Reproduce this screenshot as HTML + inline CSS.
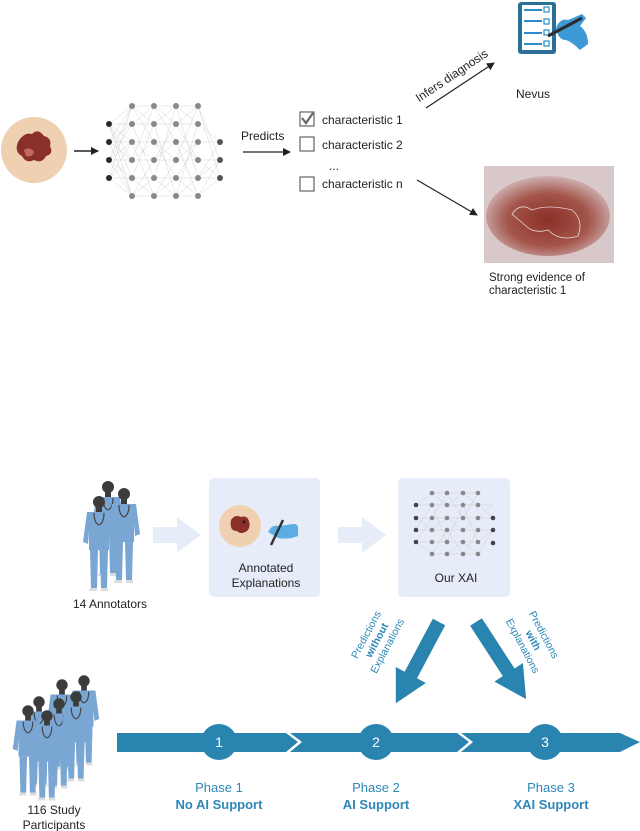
<!DOCTYPE html>
<html><head><meta charset="utf-8"><style>
html,body{margin:0;padding:0;background:#fff}
svg{display:block}
text{font-family:"Liberation Sans",sans-serif}
</style></head><body>
<svg width="640" height="831" viewBox="0 0 640 831" xmlns="http://www.w3.org/2000/svg">
<defs>
<marker id="ah" markerWidth="8" markerHeight="8" refX="7" refY="4" orient="auto" markerUnits="userSpaceOnUse"><path d="M0,0 L8,4 L0,8 Z" fill="#222"/></marker>
<g id="person">
<circle cx="0" cy="0" r="6" fill="#3c3c3c"/>
<rect x="-3" y="5" width="6" height="5" fill="#3c3c3c"/>
<path d="M-12,10 L12,10 L16,40 L11,42 L10,30 L10,48 L-10,48 L-10,30 L-11,42 L-16,40 Z" fill="#7aa6d4"/>
<path d="M-9,48 L-1,48 L-2,86 L-8,86 Z M1,48 L9,48 L8,86 L2,86 Z" fill="#7aa6d4"/>
<path d="M-9,86 h7 v3 h-8 Z M2,86 h7 v3 h-7 Z" fill="#ddd"/>
<path d="M-5,11 q0,10 5,12 q5,-2 5,-12" stroke="#444" stroke-width="1.2" fill="none"/>
</g>
</defs>

<!-- TOP: lesion -->
<ellipse cx="34" cy="150" rx="33" ry="33" fill="#efd0b0"/>
<path d="M18,142 q6,-10 14,-8 q6,-6 12,2 q8,2 6,10 q4,8 -4,10 q-4,8 -12,4 q-8,4 -12,-4 q-8,-4 -4,-14 Z" fill="#8b2f2a"/>
<path d="M24,150 q6,-4 10,2 q-2,6 -8,4 Z" fill="#c06a60"/>
<line x1="74" y1="151" x2="98" y2="151" stroke="#222" stroke-width="1.5" marker-end="url(#ah)"/>

<!-- neural net top -->
<g stroke="#c8c8c8" stroke-width="0.4" fill="none">
<path d="M109,124 L132,106 M109,124 L132,142 M109,124 L132,160 M109,124 L132,178 M109,124 L132,196 M109,142 L132,106 M109,142 L132,124 M109,142 L132,160 M109,142 L132,196 M109,160 L132,106 M109,160 L132,124 M109,160 L132,142 M109,160 L132,178 M109,160 L132,196 M109,178 L132,106 M109,178 L132,142 M109,178 L132,160 M109,178 L132,196"/>
<path d="M132,106 L154,124 L176,106 L198,124 L220,142 M132,124 L154,106 L176,124 L198,106 L220,160 M132,142 L154,160 L176,142 L198,160 L220,178 M132,160 L154,142 L176,160 L198,142 M132,178 L154,196 L176,178 L198,196 L220,178 M132,196 L154,178 L176,196 L198,178 L220,160 M132,106 L154,142 L176,178 L198,142 M132,196 L154,160 L176,124 L198,160 M132,124 L154,178 L176,106 L198,178 L220,142 M132,178 L154,124 L176,196 L198,124 M132,142 L154,196 L176,160 L198,106 L220,178 M132,160 L154,106 L176,142 L198,196 L220,160"/>
<path d="M109,124 H198 M109,142 H220 M109,160 H220 M109,178 H220 M132,106 H198 M132,196 H198"/>
</g>
<g fill="#888">
<circle cx="132" cy="106" r="3"/><circle cx="154" cy="106" r="3"/><circle cx="176" cy="106" r="3"/><circle cx="198" cy="106" r="3"/>
<circle cx="132" cy="124" r="3"/><circle cx="154" cy="124" r="3"/><circle cx="176" cy="124" r="3"/><circle cx="198" cy="124" r="3"/>
<circle cx="132" cy="142" r="3"/><circle cx="154" cy="142" r="3"/><circle cx="176" cy="142" r="3"/><circle cx="198" cy="142" r="3"/>
<circle cx="132" cy="160" r="3"/><circle cx="154" cy="160" r="3"/><circle cx="176" cy="160" r="3"/><circle cx="198" cy="160" r="3"/>
<circle cx="132" cy="178" r="3"/><circle cx="154" cy="178" r="3"/><circle cx="176" cy="178" r="3"/><circle cx="198" cy="178" r="3"/>
<circle cx="132" cy="196" r="3"/><circle cx="154" cy="196" r="3"/><circle cx="176" cy="196" r="3"/><circle cx="198" cy="196" r="3"/>
</g>
<g fill="#555"><circle cx="220" cy="142" r="3"/><circle cx="220" cy="160" r="3"/><circle cx="220" cy="178" r="3"/></g>
<g fill="#2a2a2a"><circle cx="109" cy="124" r="3"/><circle cx="109" cy="142" r="3"/><circle cx="109" cy="160" r="3"/><circle cx="109" cy="178" r="3"/></g>

<text x="241" y="140" font-size="12" fill="#222">Predicts</text>
<line x1="243" y1="152" x2="290" y2="152" stroke="#222" stroke-width="1.3" marker-end="url(#ah)"/>

<g fill="none" stroke="#555" stroke-width="1.1">
<rect x="300" y="112" width="14" height="14"/>
<rect x="300" y="137" width="14" height="14"/>
<rect x="300" y="177" width="14" height="14"/>
</g>
<path d="M302,118 L306,123 L313,113" stroke="#666" stroke-width="2.2" fill="none"/>
<g font-size="12" fill="#222">
<text x="322" y="124">characteristic 1</text>
<text x="322" y="149">characteristic 2</text>
<text x="329" y="170">...</text>
<text x="322" y="188">characteristic n</text>
</g>

<line x1="426" y1="108" x2="494" y2="63" stroke="#222" stroke-width="1.2" marker-end="url(#ah)"/>
<text x="0" y="0" font-size="12" fill="#222" transform="translate(454,79) rotate(-34)" text-anchor="middle">Infers diagnosis</text>

<!-- clipboard -->
<rect x="518" y="2" width="38" height="52" rx="3" fill="#2b6f96"/>
<rect x="522" y="5" width="30" height="45" fill="#fff"/>
<g stroke="#2a8cc8" stroke-width="2">
<line x1="524" y1="10" x2="542" y2="10"/><line x1="524" y1="21" x2="542" y2="21"/><line x1="524" y1="33" x2="542" y2="33"/><line x1="524" y1="44" x2="542" y2="44"/>
</g>
<g fill="none" stroke="#2a8cc8" stroke-width="1.2">
<rect x="544" y="7" width="5" height="5"/><rect x="544" y="19" width="5" height="5"/><rect x="544" y="30" width="5" height="5"/><rect x="544" y="41" width="5" height="5"/>
</g>
<path d="M556,28 q4,-10 12,-8 l14,-6 l4,4 l-6,8 q8,6 8,18 l-8,6 q-8,-8 -14,-10 q-8,0 -10,-12 Z" fill="#3d9ad6"/>
<line x1="548" y1="36" x2="582" y2="18" stroke="#2b2b2b" stroke-width="3"/>
<text x="516" y="98" font-size="12" fill="#222">Nevus</text>

<line x1="417" y1="180" x2="477" y2="215" stroke="#222" stroke-width="1.2" marker-end="url(#ah)"/>
<!-- derm image -->
<defs><radialGradient id="dg" cx="0.5" cy="0.55" r="0.6"><stop offset="0" stop-color="#8a2e26"/><stop offset="0.55" stop-color="#a4564c"/><stop offset="1" stop-color="#d8c6c8"/></radialGradient></defs>
<rect x="484" y="166" width="130" height="97" fill="#d8c8ca"/>
<ellipse cx="548" cy="216" rx="62" ry="40" fill="url(#dg)"/>
<path d="M512,214 q8,-12 20,-4 q16,-6 40,0 q12,10 6,26 q-18,6 -30,-6 q-14,4 -22,-4 Z" fill="none" stroke="#e8d8d8" stroke-width="0.8"/>
<text x="489" y="281" font-size="11.5" fill="#222">Strong evidence of</text>
<text x="489" y="294" font-size="11.5" fill="#222">characteristic 1</text>

<!-- BOTTOM -->
<use href="#person" transform="translate(108,487)"/>
<use href="#person" transform="translate(124,494)"/>
<use href="#person" transform="translate(99,502)"/>
<text x="110" y="608" font-size="12" fill="#222" text-anchor="middle">14 Annotators</text>

<path d="M153,527 h24 v-10 l24,18 l-24,18 v-10 h-24 Z" fill="#e6ecf8"/>
<path d="M338,527 h24 v-10 l24,18 l-24,18 v-10 h-24 Z" fill="#e6ecf8"/>
<rect x="209" y="478" width="111" height="119" rx="5" fill="#e6ecf8"/>
<rect x="398" y="478" width="112" height="119" rx="5" fill="#e6ecf8"/>

<circle cx="240" cy="526" r="21" fill="#efd0b0"/>
<path d="M231,520 q4,-6 10,-3 q6,-2 8,4 q2,6 -2,10 q-6,4 -10,0 q-8,0 -6,-11 Z" fill="#8b3028"/>
<circle cx="244" cy="522" r="1.5" fill="#222"/>
<path d="M268,532 q4,-8 10,-6 l16,-2 q4,0 4,4 v8 q-10,4 -20,2 Z" fill="#5aaee3"/>
<line x1="271" y1="545" x2="283" y2="520" stroke="#333" stroke-width="2.5"/>
<text x="266" y="572" font-size="12" fill="#222" text-anchor="middle">Annotated</text>
<text x="266" y="587" font-size="12" fill="#222" text-anchor="middle">Explanations</text>

<!-- small net -->
<g stroke="#c8c8c8" stroke-width="0.4" fill="none">
<path d="M416,505 L432,493 L447,505 L463,493 L478,505 L493,518 M416,518 L432,530 L447,518 L463,530 L478,518 L493,505 M416,530 L432,505 L447,542 L463,505 L478,542 L493,530 M416,542 L432,518 L447,493 L463,518 L478,493 M432,493 H478 M416,505 H493 M416,518 H493 M416,530 H493 M416,542 H478 M432,554 H478 M432,554 L447,530 L463,554 L478,530 M416,542 L432,554 M447,554 L463,542 L478,554 L493,530"/>
</g>
<g fill="#888">
<circle cx="432" cy="493" r="2.3"/><circle cx="447" cy="493" r="2.3"/><circle cx="463" cy="493" r="2.3"/><circle cx="478" cy="493" r="2.3"/>
<circle cx="432" cy="505" r="2.3"/><circle cx="447" cy="505" r="2.3"/><circle cx="463" cy="505" r="2.3"/><circle cx="478" cy="505" r="2.3"/>
<circle cx="432" cy="518" r="2.3"/><circle cx="447" cy="518" r="2.3"/><circle cx="463" cy="518" r="2.3"/><circle cx="478" cy="518" r="2.3"/>
<circle cx="432" cy="530" r="2.3"/><circle cx="447" cy="530" r="2.3"/><circle cx="463" cy="530" r="2.3"/><circle cx="478" cy="530" r="2.3"/>
<circle cx="432" cy="542" r="2.3"/><circle cx="447" cy="542" r="2.3"/><circle cx="463" cy="542" r="2.3"/><circle cx="478" cy="542" r="2.3"/>
<circle cx="432" cy="554" r="2.3"/><circle cx="447" cy="554" r="2.3"/><circle cx="463" cy="554" r="2.3"/><circle cx="478" cy="554" r="2.3"/>
</g>
<g fill="#444"><circle cx="416" cy="505" r="2.3"/><circle cx="416" cy="518" r="2.3"/><circle cx="416" cy="530" r="2.3"/><circle cx="416" cy="542" r="2.3"/>
<circle cx="493" cy="518" r="2.3"/><circle cx="493" cy="530" r="2.3"/><circle cx="493" cy="543" r="2.3"/></g>
<text x="456" y="582" font-size="12" fill="#222" text-anchor="middle">Our XAI</text>

<!-- diagonal arrows -->
<g fill="#2a84b0">
<path d="M0,-7 L60,-7 L60,-17 L92,0 L60,17 L60,7 L0,7 Z" transform="translate(439,622) rotate(118)"/>
<path d="M0,-7 L60,-7 L60,-17 L92,0 L60,17 L60,7 L0,7 Z" transform="translate(476,622) rotate(57)"/>
</g>
<g font-size="10.5" fill="#2d88b8" text-anchor="middle">
<g transform="translate(378,641) rotate(-62)">
<text x="0" y="-10">Predictions</text>
<text x="0" y="2" font-weight="bold">without</text>
<text x="0" y="14">Explanations</text>
</g>
<g transform="translate(532,641) rotate(62)">
<text x="0" y="-10">Predictions</text>
<text x="0" y="2" font-weight="bold">with</text>
<text x="0" y="14">Explanations</text>
</g>
</g>

<!-- participants -->
<use href="#person" transform="translate(62,685) scale(0.95)"/>
<use href="#person" transform="translate(84,681) scale(0.95)"/>
<use href="#person" transform="translate(39,702) scale(0.95)"/>
<use href="#person" transform="translate(59,704) scale(0.95)"/>
<use href="#person" transform="translate(76,697) scale(0.95)"/>
<use href="#person" transform="translate(28,711) scale(0.95)"/>
<use href="#person" transform="translate(47,716) scale(0.95)"/>
<text x="54" y="814" font-size="12" fill="#222" text-anchor="middle">116 Study</text>
<text x="54" y="829" font-size="12" fill="#222" text-anchor="middle">Participants</text>

<!-- timeline -->
<g fill="#2a84b0">
<path d="M117,733 L286,733 L298,742 L286,752 L117,752 Z"/>
<path d="M290,733 L457,733 L469,742 L457,752 L290,752 L302,742 Z"/>
<path d="M461,733 L620,733 L640,742 L620,752 L461,752 L473,742 Z"/>
<circle cx="219" cy="742" r="18"/>
<circle cx="376" cy="742" r="18"/>
<circle cx="545" cy="742" r="18"/>
</g>
<g font-size="14" fill="#fff" text-anchor="middle">
<text x="219" y="747">1</text><text x="376" y="747">2</text><text x="545" y="747">3</text>
</g>
<g font-size="13" fill="#2d88b8" text-anchor="middle">
<text x="219" y="792">Phase 1</text><text x="219" y="809" font-weight="bold">No AI Support</text>
<text x="376" y="792">Phase 2</text><text x="376" y="809" font-weight="bold">AI Support</text>
<text x="551" y="792">Phase 3</text><text x="551" y="809" font-weight="bold">XAI Support</text>
</g>
</svg>
</body></html>
